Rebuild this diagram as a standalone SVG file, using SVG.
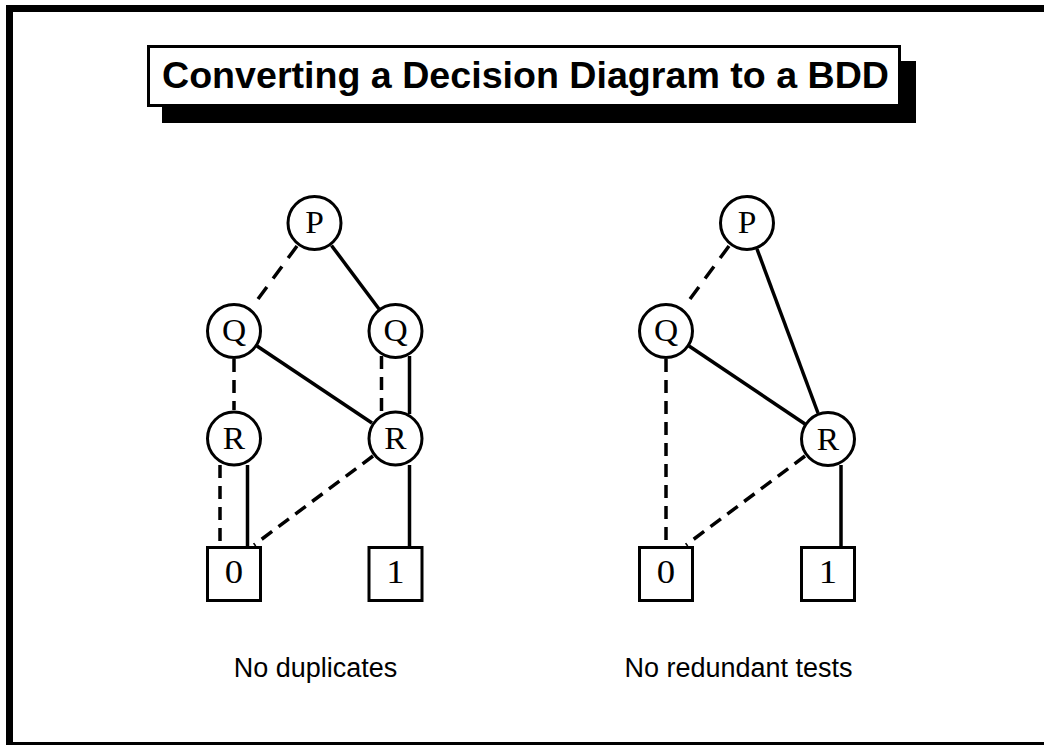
<svg xmlns="http://www.w3.org/2000/svg" width="1044" height="745" viewBox="0 0 1044 745">
  <style>
    .frame { fill: none; stroke: #000; stroke-width: 7; }
    .node circle, .node rect { fill: #fff; stroke: #000; stroke-width: 3; }
    .lbl { font-family: "Liberation Serif", "Times New Roman", serif; font-size: 31px; text-anchor: middle; fill: #000; }
    .num { font-size: 34px; }
    .hi { fill: none; stroke: #000; stroke-width: 3.5; }
    .lo { fill: none; stroke: #000; stroke-width: 3.5; stroke-dasharray: 13 8; }
    .lo.short { stroke-dasharray: 15 10.4; }
    .caption { font-family: "Liberation Sans", Arial, sans-serif; font-size: 27px; text-anchor: middle; fill: #000; }
    .title { font-family: "Liberation Sans", Arial, sans-serif; font-weight: bold; font-size: 36px; fill: #000; }
  </style>

  <rect width="1044" height="745" fill="#fff"/>
  <!-- page frame -->
  <rect class="frame" x="9.5" y="8.5" width="1100" height="737"/>

  <!-- title with drop shadow -->
  <g id="title">
    <rect x="162" y="61" width="754" height="62" fill="#000"/>
    <rect x="148.5" y="46.5" width="751" height="59" fill="#fff" stroke="#000" stroke-width="3"/>
    <text class="title" x="162" y="88" textLength="727" lengthAdjust="spacingAndGlyphs">Converting a Decision Diagram to a BDD</text>
  </g>

  <!-- connectors: solid = high branch, dashed = low branch -->
  <g id="connectors">
    <!-- left diagram -->
    <line class="lo short" x1="297" y1="246" x2="258" y2="299"/>
    <line class="hi" x1="331.5" y1="245.5" x2="379" y2="309"/>
    <line class="hi" x1="257" y1="346" x2="372" y2="423"/>
    <line class="lo" x1="234" y1="359" x2="234" y2="410"/>
    <line class="lo" x1="381.5" y1="356" x2="381.5" y2="414"/>
    <line class="hi" x1="409.5" y1="356" x2="409.5" y2="414"/>
    <line class="lo" x1="220" y1="465" x2="220" y2="546"/>
    <line class="hi" x1="247.5" y1="465" x2="247.5" y2="546"/>
    <line class="lo" x1="373" y1="456" x2="254" y2="545"/>
    <line class="hi" x1="409.5" y1="465" x2="409.5" y2="546"/>
    <!-- right diagram -->
    <line class="lo short" x1="729" y1="246" x2="690" y2="299"/>
    <line class="hi" x1="757" y1="249" x2="818" y2="413"/>
    <line class="hi" x1="689" y1="346" x2="805" y2="424"/>
    <line class="lo" x1="666" y1="359" x2="666" y2="546"/>
    <line class="lo" x1="805" y1="456" x2="686" y2="545"/>
    <line class="hi" x1="841" y1="465" x2="841" y2="546"/>
  </g>

  <!-- left diagram: no duplicates -->
  <g id="L-P" class="node"><circle cx="314.5" cy="223" r="26.5"/><text class="lbl" transform="translate(314.5 233) scale(1.08 1)">P</text></g>
  <g id="L-Q1" class="node"><circle cx="234" cy="331" r="26.5"/><text class="lbl" transform="translate(234 341) scale(1.08 1)">Q</text></g>
  <g id="L-Q2" class="node"><circle cx="395.5" cy="331" r="26.5"/><text class="lbl" transform="translate(395.5 341) scale(1.08 1)">Q</text></g>
  <g id="L-R1" class="node"><circle cx="234" cy="438.5" r="26.5"/><text class="lbl" transform="translate(234 449) scale(1.08 1)">R</text></g>
  <g id="L-R2" class="node"><circle cx="395.5" cy="438.5" r="26.5"/><text class="lbl" transform="translate(395.5 449) scale(1.08 1)">R</text></g>
  <g id="L-0" class="node"><rect x="207.5" y="547.5" width="53" height="53"/><text class="lbl num" transform="translate(234 583) scale(1.08 1)">0</text></g>
  <g id="L-1" class="node"><rect x="369" y="547.5" width="53" height="53"/><text class="lbl num" transform="translate(395.5 583) scale(1.08 1)">1</text></g>

  <!-- right diagram: no redundant tests -->
  <g id="R-P" class="node"><circle cx="747" cy="223" r="26.5"/><text class="lbl" transform="translate(747 233) scale(1.08 1)">P</text></g>
  <g id="R-Q" class="node"><circle cx="666" cy="331" r="26.5"/><text class="lbl" transform="translate(666 341) scale(1.08 1)">Q</text></g>
  <g id="R-R" class="node"><circle cx="828" cy="439" r="26.5"/><text class="lbl" transform="translate(828 449.5) scale(1.08 1)">R</text></g>
  <g id="R-0" class="node"><rect x="639.5" y="547.5" width="53" height="53"/><text class="lbl num" transform="translate(666 583) scale(1.08 1)">0</text></g>
  <g id="R-1" class="node"><rect x="801.5" y="547.5" width="53" height="53"/><text class="lbl num" transform="translate(828 583) scale(1.08 1)">1</text></g>

  <text class="caption" x="315.5" y="677">No duplicates</text>
  <text class="caption" x="738.5" y="677">No redundant tests</text>
</svg>
